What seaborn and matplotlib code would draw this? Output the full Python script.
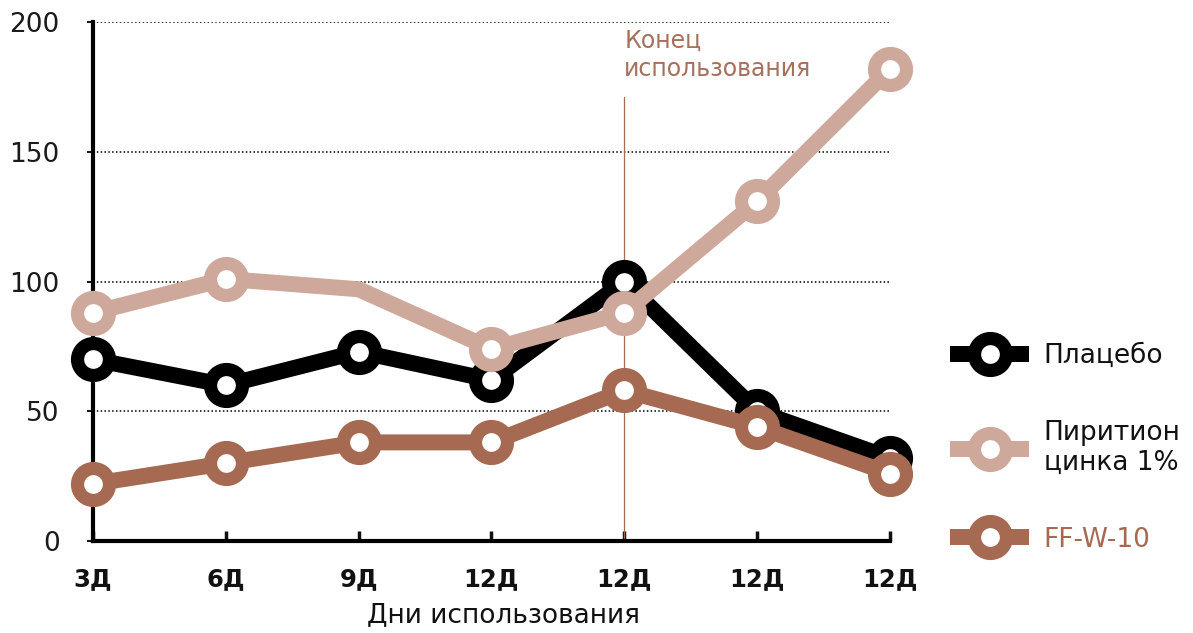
import numpy as np
import pandas as pd
import matplotlib
matplotlib.use("Agg")
import matplotlib.pyplot as plt
import seaborn as sns
from matplotlib.lines import Line2D

# ---- data ----
days = ["3Д", "6Д", "9Д", "12Д", "12Д", "12Д", "12Д"]
placebo = [70, 60, 73, 62, 100, 50, 32]
pyrithione = [88, 101, 97, 74, 88, 131, 182]
ffw10 = [22, 30, 38, 38, 58, 44, 26]
series_names = ["Плацебо", "Пиритион\nцинка 1%", "FF-W-10"]
colors = ["#000000", "#cea89b", "#a66a52"]
yticks = [0, 50, 100, 150, 200]
end_label = "Конец\nиспользования"
end_index = 4
pyr_marker_idx = [0, 1, 3, 4, 5, 6]
x_title = "Дни использования"

sns.set_theme(style="white")
plt.rcParams["font.family"] = ["DejaVu Sans"]

fig = plt.figure(figsize=(11.93, 6.33), dpi=100)
ax = fig.add_axes([93 / 1193, 92 / 633, 797 / 1193, 519 / 633])

pos = np.arange(len(days))
lw = 11.5
ms = 23
mew = 9.5
everies = [None, pyr_marker_idx, None]
for i, (vals, color, every) in enumerate(zip([placebo, pyrithione, ffw10], colors, everies)):
    df = pd.DataFrame({"pos": pos, "value": vals})
    sns.lineplot(data=df, x="pos", y="value", ax=ax, color=color, linewidth=lw,
                 marker="o", markersize=ms, markeredgewidth=mew,
                 markerfacecolor="white", markeredgecolor=color,
                 markevery=every, legend=False, clip_on=False, zorder=3 + i)

ax.set_xlim(0, 6)
ax.set_ylim(0, 200)

for s in ["top", "right"]:
    ax.spines[s].set_visible(False)
for s in ["left", "bottom"]:
    ax.spines[s].set_linewidth(3)
    ax.spines[s].set_color("black")
    ax.spines[s].set_zorder(2.5)

ax.set_yticks(yticks)
ax.yaxis.grid(True, linestyle=(0, (1, 1.5)), color="black", linewidth=1.1)
ax.xaxis.grid(False)
ax.set_axisbelow(True)
ax.tick_params(axis="y", direction="out", length=4, width=1.5, pad=20,
               labelsize=19, colors="#1a1a1a", left=True)
ax.set_xticks(pos, days)
ax.tick_params(axis="x", direction="in", length=7, width=2.5, pad=19,
               labelsize=17.5, colors="#111111", bottom=True)
for t in ax.get_xticklabels():
    t.set_fontweight("bold")

ax.set_xlabel(x_title, fontsize=19, color="#111111")
ax.xaxis.set_label_coords(0.515, -0.117)
ax.set_ylabel("")

ax.axvline(end_index, ymin=0, ymax=171 / 200, color=colors[2], lw=0.9, zorder=2)
ax.text(end_index, 197.5, end_label, color="#a5705c", fontsize=17,
        ha="left", va="top", linespacing=1.25)

handles = [Line2D([0], [0], color=c, lw=lw, marker="o", ms=ms, mew=mew,
                  mfc="white", mec=c, solid_capstyle="butt") for c in colors]
leg = fig.legend(handles, series_names, loc="center left",
                 bbox_to_anchor=(950 / 1193, 1 - 448 / 633), frameon=False,
                 fontsize=19, handlelength=3.0, handletextpad=0.55,
                 labelspacing=1.92, borderpad=0, borderaxespad=0)
for t, c in zip(leg.get_texts(), ["#111111", "#111111", colors[2]]):
    t.set_color(c)

fig.savefig("out.png", dpi=100)
